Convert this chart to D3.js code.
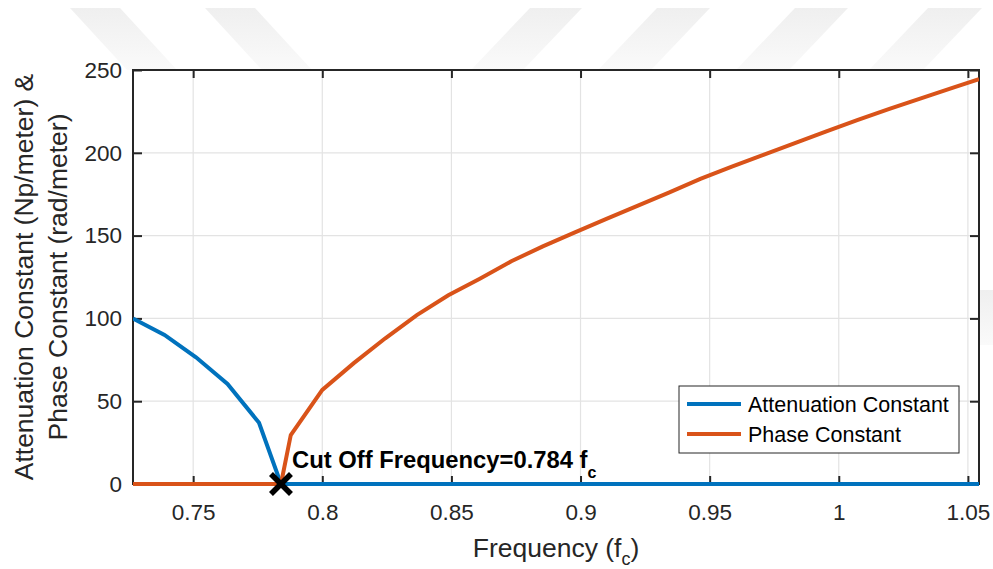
<!DOCTYPE html>
<html>
<head>
<meta charset="utf-8">
<script src="https://cdn.jsdelivr.net/npm/d3@7"></script>
<style>
  html, body { margin: 0; padding: 0; background: #fff; }
  svg { display: block; font-family: "Liberation Sans", Arial, sans-serif; }
</style>
</head>
<body>
<svg id="chart" width="993" height="569"></svg>
<script>
// frequency samples (normalised to f_c)
const freq = [0.7267, 0.7389, 0.7511, 0.7633, 0.7755, 0.784, 0.7878, 0.8000, 0.8122, 0.8244,
  0.8366, 0.8488, 0.8610, 0.8732, 0.8854, 0.8976, 0.9098, 0.9220, 0.9342, 0.9464,
  0.9586, 0.9708, 0.9830, 0.9952, 1.0074, 1.0196, 1.0318, 1.0440, 1.0543];
const attenuation = [100, 90, 76.5, 60.4, 37, 0, 0, 0, 0, 0,
  0, 0, 0, 0, 0, 0, 0, 0, 0, 0,
  0, 0, 0, 0, 0, 0, 0, 0, 0];
const phase = [0, 0, 0, 0, 0, 0, 29.6, 56.8, 73, 88,
  102, 114, 124, 134.5, 143.5, 151.8, 159.9, 168, 176, 184.2,
  191.6, 198.7, 205.8, 212.9, 219.9, 226.5, 232.9, 239.2, 244.5];
const xTicks = [0.75, 0.8, 0.85, 0.9, 0.95, 1, 1.05];
const xTickLabels = ["0.75", "0.8", "0.85", "0.9", "0.95", "1", "1.05"];
const yTicks = [0, 50, 100, 150, 200, 250];
const cutoff = 0.784;
const seriesNames = ["Attenuation Constant", "Phase Constant"];

const svg = d3.select('#chart');
const margin = { top: 70, right: 14, bottom: 85, left: 133 };
const W = 993, H = 569;
const width = W - margin.left - margin.right;
const height = H - margin.top - margin.bottom;
const ink = '#262626';
const blue = '#0072BD', orange = '#D95319';

// faint watermark stripes behind the axes
const grad = svg.append('defs').append('linearGradient')
  .attr('id', 'wm').attr('x1', 0).attr('y1', 0).attr('x2', 0).attr('y2', 1);
grad.append('stop').attr('offset', '0%').attr('stop-color', '#efefef');
grad.append('stop').attr('offset', '100%').attr('stop-color', '#fafafa');
const stripes = [
  [[70, 8], [120, 8], [177, 70], [127, 70]],
  [[205, 8], [255, 8], [312, 70], [262, 70]],
  [[530, 8], [582, 8], [523, 70], [471, 70]],
  [[657, 8], [710, 8], [651, 70], [598, 70]],
  [[795, 8], [848, 8], [789, 70], [736, 70]],
  [[928, 8], [982, 8], [923, 70], [869, 70]],
  [[980, 290], [993, 290], [993, 345], [980, 345]]
];
svg.append('g').selectAll('polygon').data(stripes).enter().append('polygon')
  .attr('points', d => d.map(p => p.join(',')).join(' '))
  .attr('fill', 'url(#wm)');

const x = d3.scaleLinear().domain([0.7267, 1.0543]).range([0, width]);
const y = d3.scaleLinear().domain([0, 250]).range([height, 0]);

const g = svg.append('g').attr('transform', 'translate(' + margin.left + ',' + margin.top + ')');

g.append('rect').attr('width', width).attr('height', height).attr('fill', '#fff');

// grid
g.append('g').selectAll('line').data(xTicks).enter().append('line')
  .attr('x1', d => x(d)).attr('x2', d => x(d)).attr('y1', 0).attr('y2', height)
  .attr('stroke', '#e3e3e3').attr('stroke-width', 1.2);
g.append('g').selectAll('line').data(yTicks).enter().append('line')
  .attr('y1', d => y(d)).attr('y2', d => y(d)).attr('x1', 0).attr('x2', width)
  .attr('stroke', '#e3e3e3').attr('stroke-width', 1.2);

// axes (ticks inward, box on)
function styleAxis(sel) {
  sel.select('.domain').remove();
  sel.selectAll('.tick line').attr('stroke', ink).attr('stroke-width', 2);
  sel.selectAll('.tick text').attr('fill', ink).attr('font-size', '22.5px');
}
g.append('g').attr('transform', 'translate(0,' + height + ')')
  .call(d3.axisBottom(x).tickValues(xTicks).tickFormat((d, i) => xTickLabels[i]).tickSizeInner(-8).tickPadding(20))
  .call(styleAxis);
g.append('g')
  .call(d3.axisTop(x).tickValues(xTicks).tickFormat('').tickSizeInner(-8))
  .call(styleAxis);
g.append('g')
  .call(d3.axisLeft(y).tickValues(yTicks).tickSizeInner(-9).tickPadding(11))
  .call(styleAxis);
g.append('g').attr('transform', 'translate(' + width + ',0)')
  .call(d3.axisRight(y).tickValues(yTicks).tickFormat('').tickSizeInner(-9))
  .call(styleAxis);

// box
g.append('rect').attr('width', width).attr('height', height)
  .attr('fill', 'none').attr('stroke', ink).attr('stroke-width', 2);

// series
const clip = svg.append('defs').append('clipPath').attr('id', 'clip');
clip.append('rect').attr('width', width).attr('height', height + 6).attr('y', -3);
const line = d3.line().x(d => x(d[0])).y(d => y(d[1]));
const plot = g.append('g').attr('clip-path', 'url(#clip)');
plot.append('path').datum(freq.map((f, i) => [f, attenuation[i]]))
  .attr('d', line).attr('fill', 'none').attr('stroke', blue).attr('stroke-width', 4);
plot.append('path').datum(freq.map((f, i) => [f, phase[i]]))
  .attr('d', line).attr('fill', 'none').attr('stroke', orange).attr('stroke-width', 4);

// cut-off marker
const cx = x(cutoff), cy = y(0);
const mk = g.append('g').attr('transform', 'translate(' + cx + ',' + cy + ')');
mk.append('line').attr('x1', -10).attr('y1', -10).attr('x2', 10).attr('y2', 10)
  .attr('stroke', '#000').attr('stroke-width', 5.5);
mk.append('line').attr('x1', -10).attr('y1', 10).attr('x2', 10).attr('y2', -10)
  .attr('stroke', '#000').attr('stroke-width', 5.5);

const ct = g.append('text').attr('x', cx + 11).attr('y', cy - 16)
  .attr('font-size', '23.8px').attr('font-weight', 'bold').attr('fill', '#000');
ct.append('tspan').text('Cut Off Frequency=' + cutoff + ' f');
ct.append('tspan').attr('dy', 10).attr('font-size', '16px').text('c');

// axis labels
const xl = svg.append('text').attr('x', margin.left + width / 2).attr('y', 557)
  .attr('text-anchor', 'middle').attr('font-size', '26.5px').attr('fill', ink);
xl.append('tspan').text('Frequency (f');
xl.append('tspan').attr('dy', 8).attr('font-size', '18px').text('c');
xl.append('tspan').attr('dy', -8).text(')');

const yl = svg.append('text')
  .attr('transform', 'translate(0,' + (margin.top + height / 2) + ') rotate(-90)')
  .attr('text-anchor', 'middle').attr('font-size', '26.5px').attr('fill', ink);
yl.append('tspan').attr('x', 0).attr('y', 33).text('Attenuation Constant (Np/meter) &');
yl.append('tspan').attr('x', 0).attr('y', 67).text('Phase Constant (rad/meter)');

// legend
const lg = svg.append('g').attr('transform', 'translate(679,386)');
lg.append('rect').attr('width', 280).attr('height', 67)
  .attr('fill', '#fff').attr('stroke', ink).attr('stroke-width', 1);
[blue, orange].forEach((c, i) => {
  const ly = 18 + i * 30;
  lg.append('line').attr('x1', 8).attr('x2', 62).attr('y1', ly).attr('y2', ly)
    .attr('stroke', c).attr('stroke-width', 4);
  lg.append('text').attr('x', 69).attr('y', ly + 7.5)
    .attr('font-size', '21.5px').attr('fill', '#000').text(seriesNames[i]);
});
</script>
</body>
</html>
